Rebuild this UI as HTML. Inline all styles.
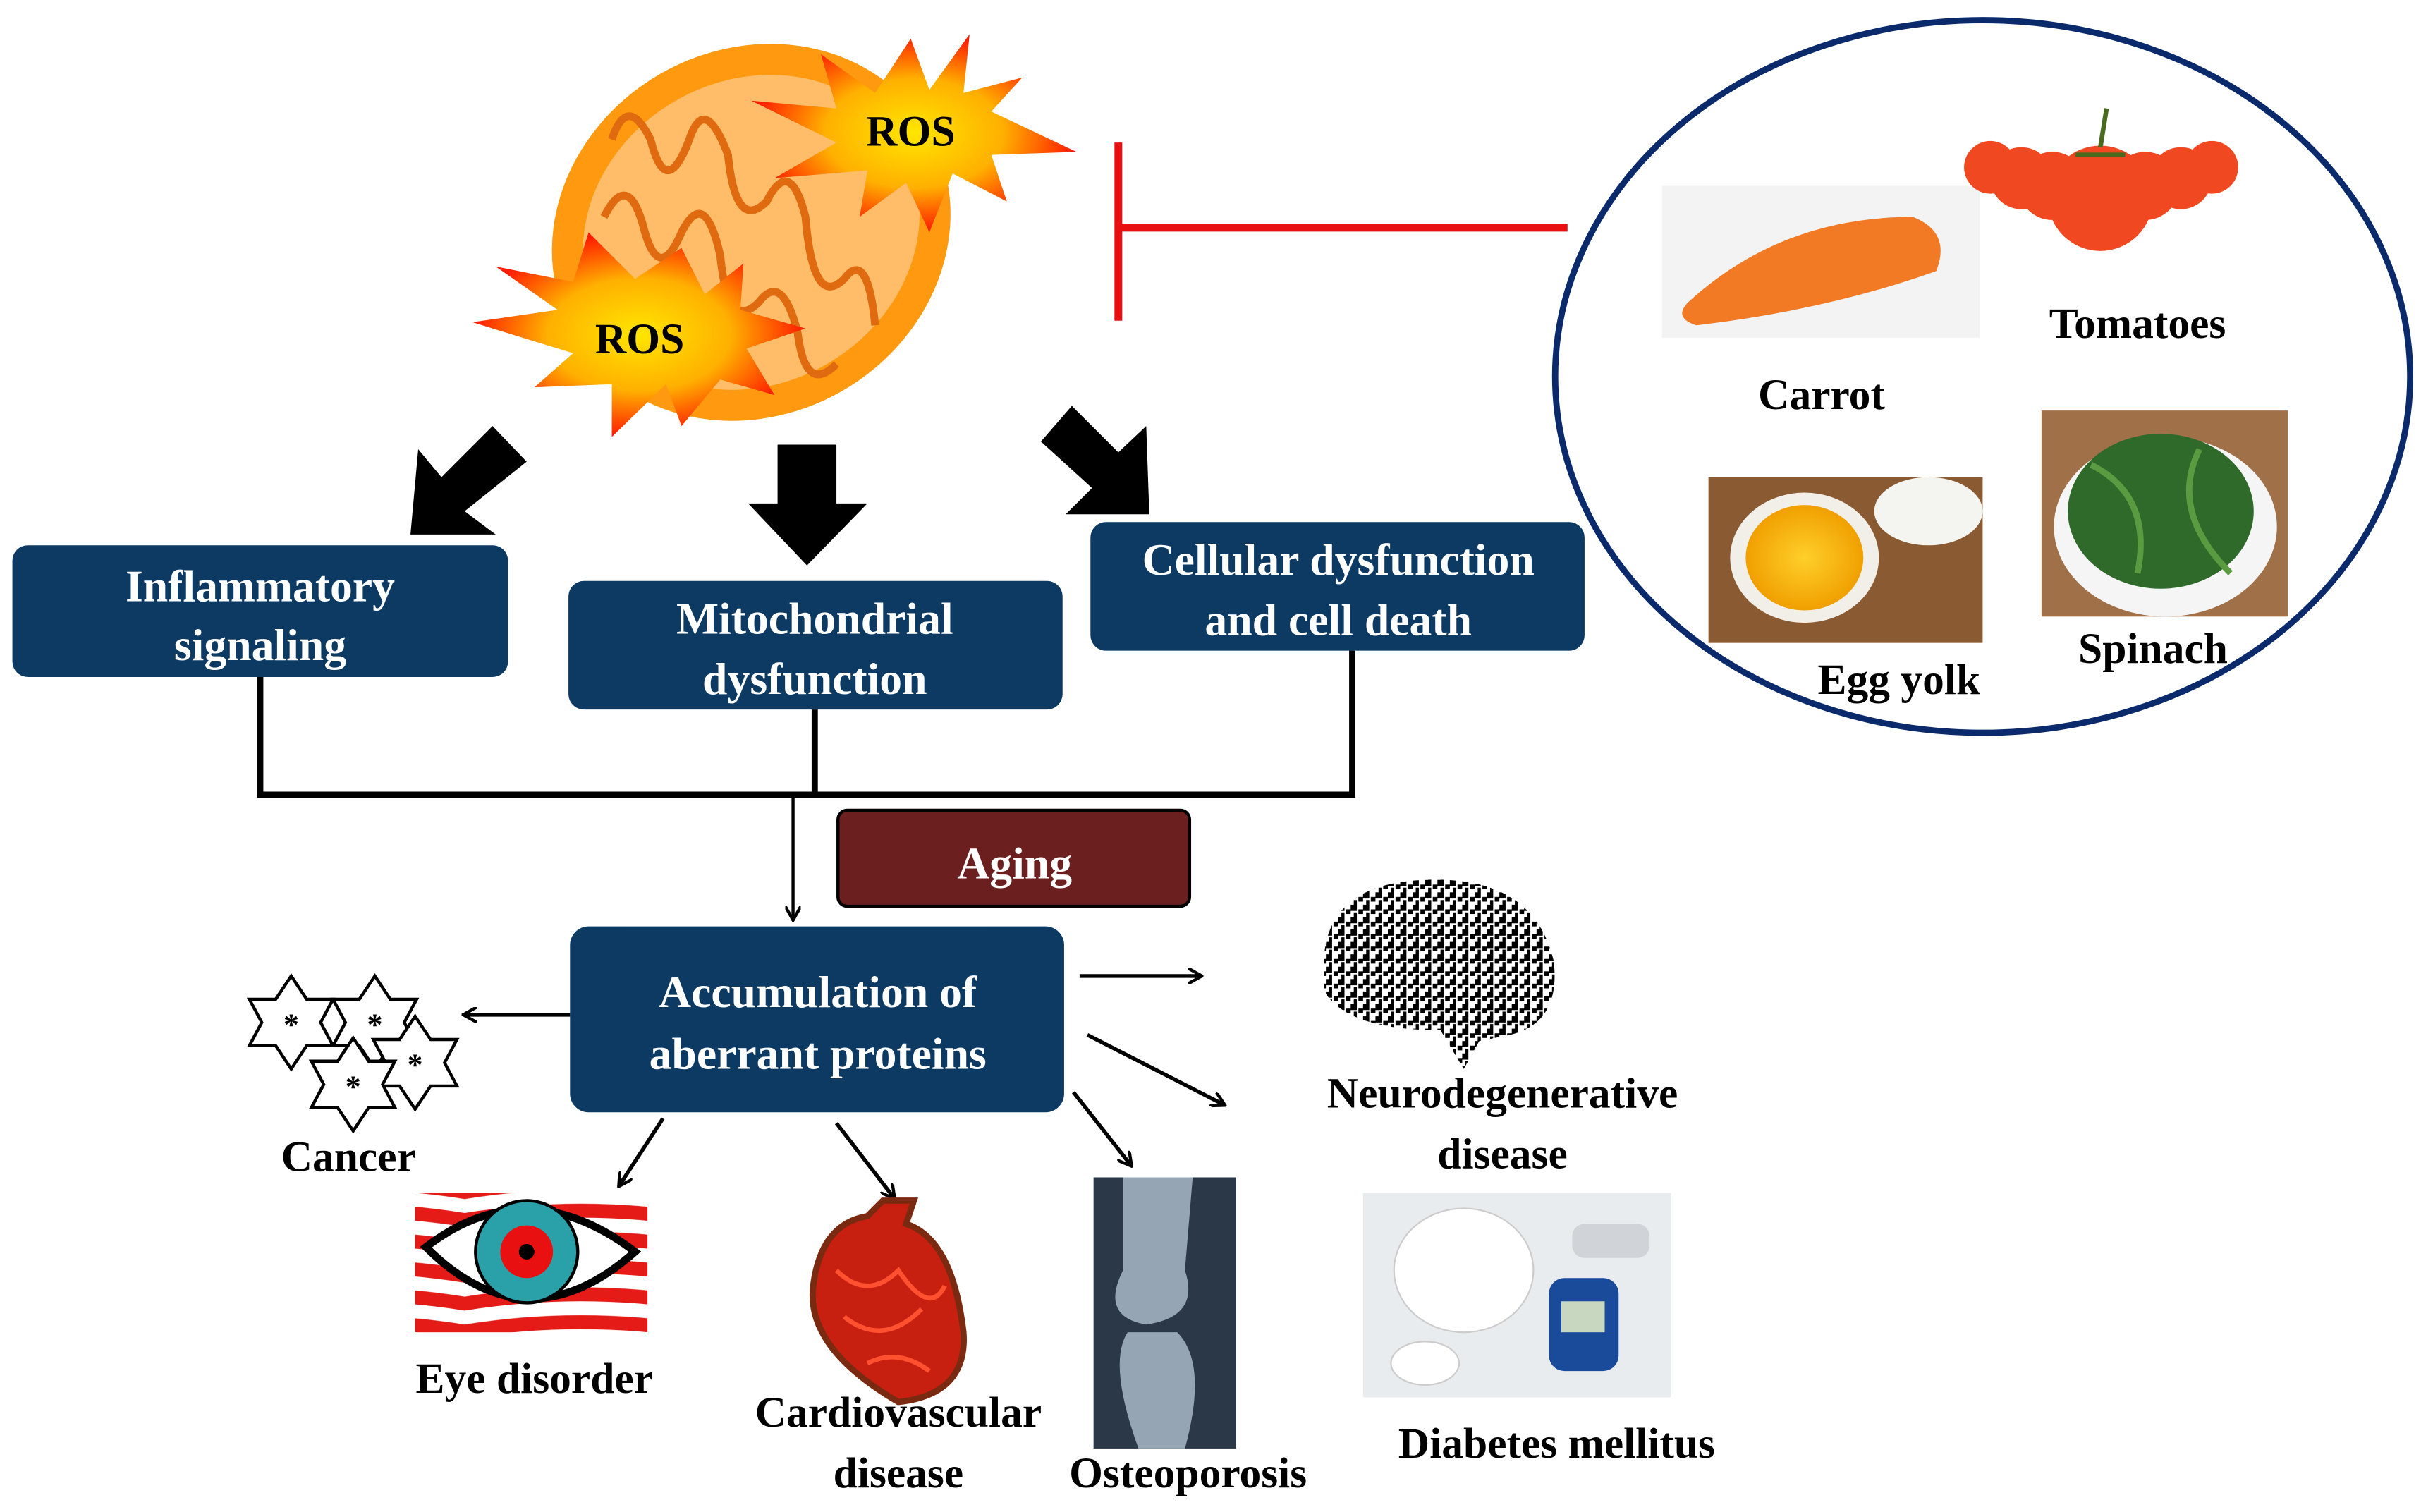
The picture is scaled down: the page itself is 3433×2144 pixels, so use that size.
<!DOCTYPE html>
<html><head><meta charset="utf-8"><style>
html,body{margin:0;padding:0;background:#fff;}
svg{display:block;}
text{font-family:"Liberation Serif",serif;font-weight:bold;}
</style></head><body>
<svg width="3433" height="2144" viewBox="0 0 1563 976" preserveAspectRatio="none" xmlns="http://www.w3.org/2000/svg">
<defs>
<marker id="ah" markerWidth="10" markerHeight="10" refX="8" refY="5" orient="auto" markerUnits="userSpaceOnUse"><path d="M0,0 L9,5 L0,10" fill="none" stroke="#000" stroke-width="2"/></marker>
<radialGradient id="ros" cx="50%" cy="50%" r="50%"><stop offset="0" stop-color="#ffe600"/><stop offset="0.55" stop-color="#ffb000"/><stop offset="1" stop-color="#ff1a00"/></radialGradient>
<radialGradient id="yolk"><stop offset="0" stop-color="#ffcf2a"/><stop offset="1" stop-color="#f0a000"/></radialGradient>
<pattern id="noise" width="8" height="8" patternUnits="userSpaceOnUse"><rect width="8" height="8" fill="#fff"/><rect x="0" y="0" width="4" height="4" fill="#000"/><rect x="5" y="3" width="3" height="3" fill="#000"/><rect x="2" y="5" width="2" height="3" fill="#000"/></pattern>
<pattern id="stripes" width="150" height="18" patternUnits="userSpaceOnUse"><rect width="150" height="18" fill="#fff"/><path d="M0,9 Q75,-3 150,9 L150,18 Q75,6 0,18Z" fill="#e41b17"/></pattern>
</defs>

<!-- mitochondrion -->
<ellipse cx="485" cy="150" rx="132" ry="118" transform="rotate(-30 485 150)" fill="#ff9a10"/>
<ellipse cx="485" cy="150" rx="112" ry="98" transform="rotate(-30 485 150)" fill="#ffbd6a"/>
<path d="M395,90 q10,-30 25,0 q10,40 25,0 q10,-30 25,10 q5,50 25,30 q15,-30 25,10 q5,60 25,40 q15,-20 20,30 M390,140 q15,-30 25,5 q10,40 25,5 q15,-30 25,15 q5,50 25,30 q15,-20 25,20 q5,40 25,20" fill="none" stroke="#e06a10" stroke-width="5"/>
<polygon points="588,25 600,58 626,22 622,60 660,50 640,72 695,98 640,100 650,130 615,112 600,150 585,118 555,140 560,110 500,115 540,92 485,65 540,70 530,35 565,60" fill="url(#ros)"/>
<text x="588" y="94" font-size="28" text-anchor="middle" fill="#000">ROS</text>
<polygon points="440,160 455,190 480,170 478,200 520,212 482,225 500,255 465,245 440,275 430,248 395,282 395,248 345,250 370,228 305,208 360,200 320,172 370,182 380,150 410,180" fill="url(#ros)"/>
<text x="413" y="228" font-size="28" text-anchor="middle" fill="#000">ROS</text>

<!-- inhibitor -->
<path d="M722,92 V207 M722,147 H1012" stroke="#e81010" stroke-width="5" fill="none"/>

<!-- food circle -->
<ellipse cx="1280" cy="243" rx="276" ry="230" fill="#fff" stroke="#0b2a6b" stroke-width="4"/>
<rect x="1073" y="120" width="205" height="98" fill="#f3f3f3"/>
<path d="M1090,195 Q1150,140 1235,140 Q1260,150 1250,175 Q1180,200 1095,210 Q1080,205 1090,195Z" fill="#f27a25"/>
<g fill="#f04820">
<circle cx="1285" cy="108" r="17"/><circle cx="1428" cy="108" r="17"/><circle cx="1305" cy="115" r="20"/><circle cx="1408" cy="115" r="20"/><circle cx="1325" cy="120" r="22"/><circle cx="1385" cy="120" r="22"/><circle cx="1356" cy="128" r="34"/></g>
<path d="M1356,95 L1360,70 M1340,100 L1372,100" stroke="#4a6a20" stroke-width="3"/>
<text x="1176" y="264" font-size="28" text-anchor="middle">Carrot</text>
<text x="1380" y="218" font-size="28" text-anchor="middle">Tomatoes</text>
<rect x="1103" y="308" width="177" height="107" fill="#8a5a32"/>
<ellipse cx="1245" cy="330" rx="35" ry="22" fill="#f4f4f0"/>
<ellipse cx="1165" cy="360" rx="48" ry="42" fill="#f2efe8"/>
<ellipse cx="1165" cy="360" rx="38" ry="34" fill="url(#yolk)"/>
<rect x="1318" y="265" width="159" height="133" fill="#a07048"/>
<ellipse cx="1398" cy="340" rx="72" ry="58" fill="#f5f5f5"/>
<ellipse cx="1395" cy="330" rx="60" ry="50" fill="#2f6a2a"/>
<path d="M1350,300 q40,20 30,70 M1420,290 q-20,40 20,80" stroke="#5a9a40" stroke-width="4" fill="none"/>
<text x="1226" y="448" font-size="28" text-anchor="middle">Egg yolk</text>
<text x="1390" y="428" font-size="28" text-anchor="middle">Spinach</text>

<!-- thick arrows -->
<polygon points="318,275 340,298 300,330 320,345 265,345 270,290 285,308" fill="#000"/>
<polygon points="502,287 540,287 540,325 560,325 521,365 483,325 502,325" fill="#000"/>
<polygon points="672,285 692,262 722,292 740,275 742,332 688,332 705,315" fill="#000"/>

<!-- boxes -->
<rect x="8" y="352" width="320" height="85" rx="10" fill="#0d3a63"/>
<text x="168" y="388" font-size="29" fill="#fff" text-anchor="middle">Inflammatory</text>
<text x="168" y="426" font-size="29" fill="#fff" text-anchor="middle">signaling</text>
<rect x="367" y="375" width="319" height="83" rx="10" fill="#0d3a63"/>
<text x="526" y="409" font-size="29" fill="#fff" text-anchor="middle">Mitochondrial</text>
<text x="526" y="448" font-size="29" fill="#fff" text-anchor="middle">dysfunction</text>
<rect x="704" y="337" width="319" height="83" rx="10" fill="#0d3a63"/>
<text x="864" y="371" font-size="29" fill="#fff" text-anchor="middle">Cellular dysfunction</text>
<text x="864" y="410" font-size="29" fill="#fff" text-anchor="middle">and cell  death</text>

<path d="M168,437 V513 M526,458 V513 M873,420 V513 M166,513 H875" stroke="#000" stroke-width="4" fill="none"/>
<line x1="512" y1="513" x2="512" y2="593" stroke="#000" stroke-width="2" marker-end="url(#ah)"/>

<rect x="541" y="523" width="227" height="62" rx="6" fill="#6b1f1f" stroke="#000" stroke-width="2"/>
<text x="655" y="567" font-size="29" fill="#fff" text-anchor="middle">Aging</text>

<rect x="368" y="598" width="319" height="120" rx="12" fill="#0d3a63"/>
<text x="528" y="650" font-size="29" fill="#fff" text-anchor="middle">Accumulation of</text>
<text x="528" y="690" font-size="29" fill="#fff" text-anchor="middle">aberrant proteins</text>

<g stroke="#000" stroke-width="2.5" fill="none" marker-end="url(#ah)">
<line x1="368" y1="655" x2="300" y2="655"/>
<line x1="697" y1="630" x2="775" y2="630"/>
<line x1="702" y1="668" x2="790" y2="713"/>
<line x1="693" y1="705" x2="730" y2="752"/>
<line x1="428" y1="722" x2="400" y2="765"/>
<line x1="540" y1="725" x2="577" y2="773"/>
</g>

<!-- cancer stars -->
<g fill="#fff" stroke="#000" stroke-width="2">
<polygon points="188,630 198,645 215,645 207,660 215,675 198,675 188,690 178,675 161,675 169,660 161,645 178,645"/>
<polygon points="242,630 252,645 269,645 261,660 269,675 252,675 242,690 232,675 215,675 223,660 215,645 232,645"/>
<polygon points="268,656 278,671 295,671 287,686 295,701 278,701 268,716 258,701 241,701 249,686 241,671 258,671"/>
<polygon points="228,670 238,685 255,685 247,700 255,715 238,715 228,730 218,715 201,715 209,700 201,685 218,685"/>
</g>
<g font-size="20" text-anchor="middle" font-family="Liberation Sans" fill="#000"><text x="188" y="668">*</text><text x="242" y="668">*</text><text x="268" y="694">*</text><text x="228" y="708">*</text></g>
<text x="225" y="756" font-size="28" text-anchor="middle">Cancer</text>

<!-- eye -->
<rect x="268" y="770" width="150" height="90" fill="url(#stripes)"/>
<path d="M275,805 Q340,755 410,808 Q340,870 275,805Z" fill="#fff" stroke="#000" stroke-width="5"/>
<circle cx="340" cy="808" r="33" fill="#2aa0a8" stroke="#000" stroke-width="2"/>
<circle cx="340" cy="808" r="17" fill="#e81010"/>
<circle cx="340" cy="808" r="5" fill="#000"/>
<text x="345" y="899" font-size="28" text-anchor="middle">Eye disorder</text>

<!-- heart -->
<path d="M560,785 Q530,790 525,830 Q520,870 580,905 Q625,900 622,860 Q615,800 585,790 L590,775 L570,775Z" fill="#c82010" stroke="#7a2a10" stroke-width="4"/>
<path d="M540,820 q20,20 40,0 q20,30 30,10 M545,850 q25,20 50,-5 M560,880 q20,-10 40,5" stroke="#ff5030" stroke-width="3" fill="none"/>
<text x="580" y="921" font-size="28" text-anchor="middle">Cardiovascular</text>
<text x="580" y="960" font-size="28" text-anchor="middle">disease</text>

<!-- xray -->
<rect x="706" y="760" width="92" height="175" fill="#2a3848"/>
<path d="M725,760 L725,820 Q710,850 740,855 Q775,850 765,820 L770,760Z M728,860 Q715,880 735,935 L765,935 Q780,880 760,860Z" fill="#b0c0d0" opacity="0.8"/>
<text x="767" y="960" font-size="28" text-anchor="middle">Osteoporosis</text>

<!-- brain -->
<path d="M855,615 Q860,570 920,568 Q990,565 1003,620 Q1008,660 975,668 L955,672 L945,690 L930,665 Q870,665 855,640Z" fill="url(#noise)"/>
<text x="970" y="715" font-size="28" text-anchor="middle">Neurodegenerative</text>
<text x="970" y="754" font-size="28" text-anchor="middle">disease</text>

<!-- diabetes -->
<rect x="880" y="770" width="199" height="132" fill="#e8ecee"/>
<ellipse cx="945" cy="820" rx="45" ry="40" fill="#fff" stroke="#ccc"/>
<ellipse cx="920" cy="880" rx="22" ry="14" fill="#fff" stroke="#ccc"/>
<rect x="1000" y="825" width="45" height="60" rx="10" fill="#1a4a9a"/>
<rect x="1008" y="840" width="28" height="20" fill="#c8d8c0"/>
<rect x="1015" y="790" width="50" height="22" rx="8" fill="#d0d4d8"/>
<text x="1005" y="941" font-size="28" text-anchor="middle">Diabetes mellitus</text>
</svg>
</body></html>
